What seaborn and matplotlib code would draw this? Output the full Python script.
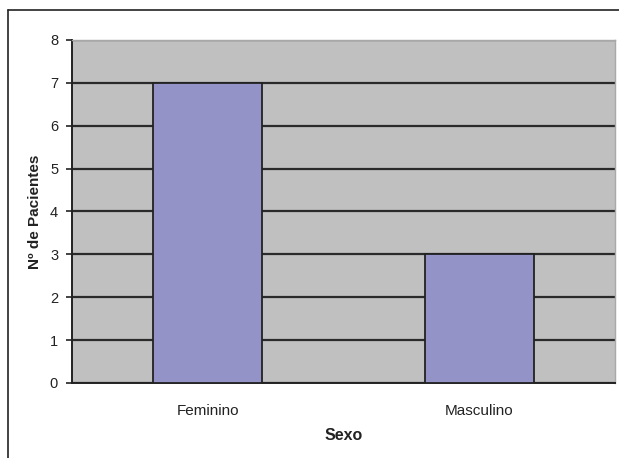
import matplotlib
matplotlib.use("Agg")
import matplotlib.pyplot as plt
import seaborn as sns
from matplotlib.lines import Line2D

# Dados: pacientes por sexo
sexo = ["Feminino", "Masculino"]
pacientes = [7, 3]
y_ticks = [0, 1, 2, 3, 4, 5, 6, 7, 8]

sns.set_style("white")
plt.rcParams["font.family"] = ["Liberation Sans", "DejaVu Sans"]

fig = plt.figure(figsize=(6.19, 4.58), dpi=100)
ax = fig.add_axes([0.1163, 0.1638, 0.8772, 0.7489])
ax.set_facecolor("#C0C0C0")

sns.barplot(x=sexo, y=pacientes, color="#9393C8", width=0.4,
            edgecolor="#222222", linewidth=1.3, saturation=1, ax=ax, zorder=3)

ax.set_ylim(0, 8)
ax.set_xlim(-0.5, 1.5)
ax.set_yticks(y_ticks)
ax.yaxis.grid(True, color="#2a2a2a", linewidth=1.6, zorder=1)
ax.set_axisbelow(True)

# ticks do eixo x nas divisas das categorias
ax.set_xticks([-0.5, 0.5, 1.5], minor=True)
ax.tick_params(axis="x", which="major", length=0, pad=15, labelsize=11, labelcolor="#222222")
ax.tick_params(axis="x", which="minor", length=4, width=1.2, color="#222222", direction="out")
ax.tick_params(axis="y", length=4, width=1.2, color="#222222", direction="out",
               left=True, labelsize=10.5, pad=6, labelcolor="#222222")

for s in ["left", "bottom"]:
    ax.spines[s].set_color("#222222")
    ax.spines[s].set_linewidth(1.4)
for s in ["top", "right"]:
    ax.spines[s].set_color("#A8A8A8")
    ax.spines[s].set_linewidth(1.0)

ax.set_xlabel("Sexo", fontsize=11.5, fontweight="bold", labelpad=7, color="#222222")
ax.set_ylabel("Nº de Pacientes", fontsize=11, fontweight="bold", labelpad=6, color="#222222")

# moldura externa (topo e lado esquerdo)
fig.add_artist(Line2D([8 / 619, 1], [1 - 10 / 458, 1 - 10 / 458], color="#222222", lw=1.2))
fig.add_artist(Line2D([8 / 619, 8 / 619], [0, 1 - 10 / 458], color="#222222", lw=1.2))

fig.savefig("out.png", dpi=100)
